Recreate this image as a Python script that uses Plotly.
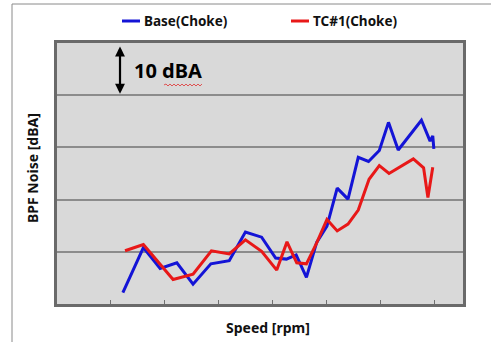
import plotly.graph_objects as go

# Engine speed [rpm] and BPF noise level [dBA] for each configuration
base_rpm = [1220, 1600, 1910, 2220, 2520, 2850, 3190, 3490, 3790, 4050,
            4250, 4430, 4620, 4810, 5000, 5190, 5390, 5580, 5770, 5970,
            6140, 6320, 6750, 6910, 6960, 6980]
base_dba = [42.2, 50.8, 46.8, 47.9, 43.8, 47.7, 48.3, 53.8, 52.8, 48.8,
            48.6, 49.4, 45.1, 51.8, 54.9, 62.2, 60.1, 68.1, 67.3, 69.4,
            74.8, 69.5, 75.2, 71.2, 72.2, 69.7]

tc1_rpm = [1260, 1600, 2150, 2520, 2860, 3190, 3490, 3790, 4070, 4260,
           4440, 4620, 4810, 5000, 5190, 5390, 5580, 5780, 5970, 6150,
           6600, 6790, 6870, 6960]
tc1_dba = [50.2, 51.4, 44.7, 45.7, 50.2, 49.6, 52.3, 50.1, 46.5, 51.9,
           47.9, 47.7, 51.7, 56.2, 54.0, 55.3, 58.0, 63.9, 66.5, 65.0,
           67.8, 66.1, 60.4, 66.2]

series_names = ["Base(Choke)", "TC#1(Choke)"]
series_colors = ["#1414d6", "#e81818"]

x_ticks = [1000, 2000, 3000, 4000, 5000, 6000, 7000]
x_range = [0, 7520]
y_range = [40, 90]
y_grid = [50, 60, 70, 80]

W, H = 491, 342
L, R, T, B = 57, 28, 43, 38
pw, ph = W - L - R, H - T - B


def px(x):
    return (x - L) / pw


def py(y):
    return (H - B - y) / ph


font_family = "Noto Sans, Open Sans, sans-serif"

fig = go.Figure()
fig.add_trace(go.Scatter(x=base_rpm, y=base_dba, mode="lines", name=series_names[0],
                         line=dict(color=series_colors[0], width=3), showlegend=False))
fig.add_trace(go.Scatter(x=tc1_rpm, y=tc1_dba, mode="lines", name=series_names[1],
                         line=dict(color=series_colors[1], width=3), showlegend=False))

shapes = []
# outer frame of the chart
shapes.append(dict(type="rect", xref="paper", yref="paper",
                   x0=px(12), x1=px(494), y0=py(345), y1=py(4),
                   line=dict(color="#8a8a8a", width=1), layer="below"))

annotations = []
# legend entries: short coloured line followed by the series name
legend_items = [(122, 140, 142, series_names[0], series_colors[0]),
                (291, 309, 311, series_names[1], series_colors[1])]
for x0, x1, tx, name, col in legend_items:
    shapes.append(dict(type="line", xref="paper", yref="paper",
                       x0=px(x0), x1=px(x1), y0=py(21), y1=py(21),
                       line=dict(color=col, width=3)))
    annotations.append(dict(text=name, xref="paper", yref="paper",
                            x=px(tx), y=py(21), xanchor="left", yanchor="middle",
                            showarrow=False,
                            font=dict(family=font_family, size=13.5, color="#111111", weight="bold")))

# 10 dBA scale marker spanning one grid band
arrow_x = 1167
annotations.append(dict(x=arrow_x, y=80.3, ax=arrow_x, ay=89.6, xref="x", yref="y",
                        axref="x", ayref="y", text="", showarrow=True,
                        arrowhead=2, arrowside="end+start", arrowsize=0.9,
                        arrowwidth=2.2, arrowcolor="#000000", standoff=0, startstandoff=0))
annotations.append(dict(text="10 dBA", xref="paper", yref="paper",
                        x=px(132), y=py(70), xanchor="left", yanchor="middle",
                        showarrow=False,
                        font=dict(family=font_family, size=20, color="#000000", weight="bold")))
# wavy spell-check underline beneath "dBA"
wave = "M {:.4f} {:.4f}".format(px(164), py(85))
xw = 164
up = True
while xw < 202:
    xw += 2
    wave += " L {:.4f} {:.4f}".format(px(xw), py(84 if up else 86))
    up = not up
shapes.append(dict(type="path", xref="paper", yref="paper", path=wave,
                   line=dict(color="#e03030", width=0.8)))

# axis titles
annotations.append(dict(text="Speed [rpm]", xref="paper", yref="paper",
                        x=px(268), y=py(328), xanchor="center", yanchor="middle",
                        showarrow=False,
                        font=dict(family=font_family, size=14, color="#111111", weight="bold")))
annotations.append(dict(text="BPF Noise [dBA]", xref="paper", yref="paper",
                        x=px(32), y=py(168), xanchor="center", yanchor="middle",
                        textangle=-90, showarrow=False,
                        font=dict(family=font_family, size=14, color="#111111", weight="bold")))

fig.update_layout(
    width=W, height=H,
    margin=dict(l=L, r=R, t=T, b=B),
    paper_bgcolor="#ffffff",
    plot_bgcolor="#d9d9d9",
    shapes=shapes,
    annotations=annotations,
    showlegend=False,
    xaxis=dict(range=x_range, tickvals=x_ticks, showticklabels=False,
               ticks="inside", ticklen=4, tickcolor="#707070", tickwidth=1.2,
               showgrid=False, zeroline=False,
               showline=True, linecolor="#6a6a6a", linewidth=2.5, mirror=True),
    yaxis=dict(range=y_range, tickvals=y_grid, showticklabels=False, ticks="",
               showgrid=True, gridcolor="#8c8c8c", gridwidth=1.5, zeroline=False,
               showline=True, linecolor="#6a6a6a", linewidth=2.5, mirror=True),
)

fig.write_html("out.html")
